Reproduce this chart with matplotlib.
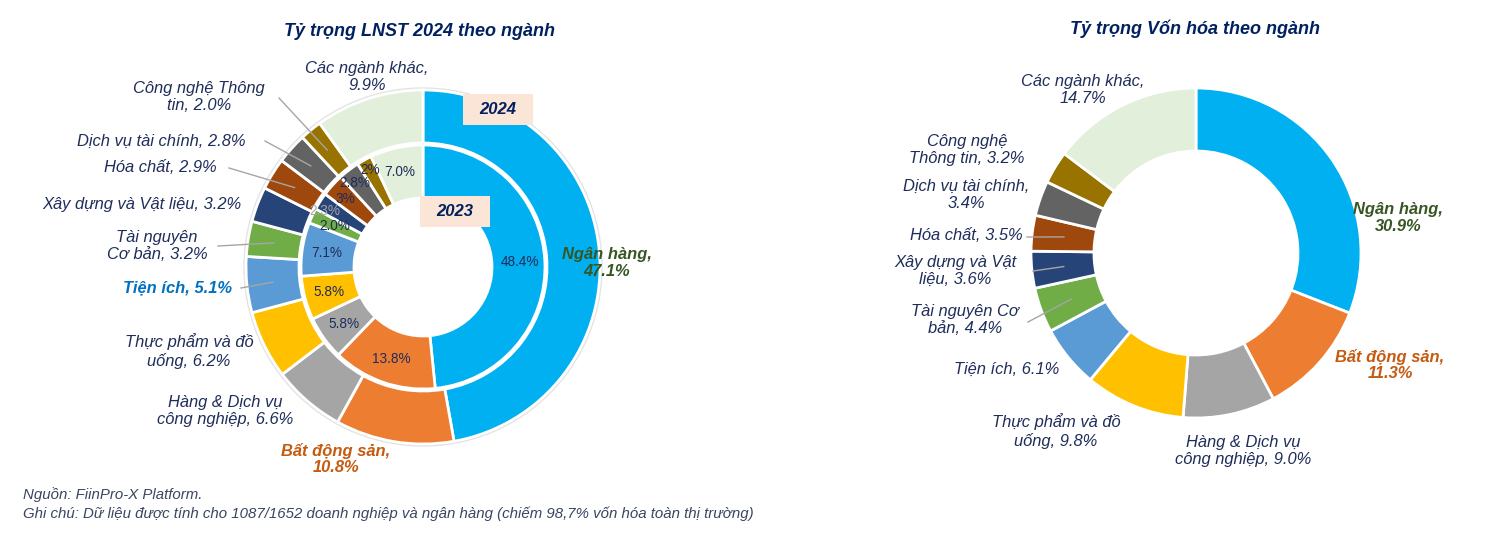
import numpy as np
import matplotlib
matplotlib.use('Agg')
import matplotlib.pyplot as plt
from matplotlib.patches import Rectangle

plt.rcParams['font.family'] = ['Liberation Sans', 'DejaVu Sans']

# Dữ liệu
nganh = ['Ngân hàng', 'Bất động sản', 'Hàng & Dịch vụ công nghiệp', 'Thực phẩm và đồ uống',
         'Tiện ích', 'Tài nguyên Cơ bản', 'Xây dựng và Vật liệu', 'Hóa chất',
         'Dịch vụ tài chính', 'Công nghệ Thông tin', 'Các ngành khác']
lnst_2024 = [47.1, 10.8, 6.6, 6.2, 5.1, 3.2, 3.2, 2.9, 2.8, 2.0, 9.9]
lnst_2023 = [48.4, 13.8, 5.8, 5.8, 7.1, 2.0, 2.3, 3.0, 2.8, 2.0, 7.0]
nhan_2023 = ['48.4%', '13.8%', '5.8%', '5.8%', '7.1%', '2.0%', '2.3%', '3%', '2.8%', '2%', '7.0%']
von_hoa = [30.9, 11.3, 9.0, 9.8, 6.1, 4.4, 3.6, 3.5, 3.4, 3.2, 14.7]

mau = ['#00B0F0', '#ED7D31', '#A5A5A5', '#FFC000', '#5B9BD5', '#70AD47',
       '#264478', '#9E480E', '#636363', '#997300', '#E2EFDA']

W, H = 1496, 533
fig = plt.figure(figsize=(W / 100, H / 100), dpi=100)
ax = fig.add_axes([0, 0, 1, 1])

def Y(y):
    return H - y

navy = '#1F2D5A'
xanh_dam = '#002060'
green = '#375623'
cam = '#C55A11'
fs = 11.9
ls = 1.16

# ---------------- Biểu đồ trái ----------------
c1 = (423, Y(267))
ax.add_patch(plt.Circle(c1, 179, color='#E3E3E3', zorder=0))
ax.add_patch(plt.Circle(c1, 124, color='white', zorder=0))
w_out, _ = ax.pie(lnst_2024, radius=177, center=c1, startangle=90, counterclock=False,
                  colors=mau, wedgeprops=dict(width=53, edgecolor='white', linewidth=2))
w_in, _ = ax.pie(lnst_2023, radius=122, center=c1, startangle=90, counterclock=False,
                 colors=mau, wedgeprops=dict(width=53, edgecolor='white', linewidth=2))

# nhãn vòng trong 2023
lech = {6: (-16, 4), 7: (-6, 3), 8: (-9, 7), 9: (-6, 12), 10: (-2, 0)}
for i, w in enumerate(w_in):
    th = np.deg2rad((w.theta1 + w.theta2) / 2)
    x = c1[0] + 97 * np.cos(th)
    y = c1[1] + 97 * np.sin(th)
    dx, dy = lech.get(i, (0, 0))
    ax.text(x + dx, y + dy, nhan_2023[i], ha='center', va='center', fontsize=9.8,
            color='#A6A6A6' if i == 6 else navy, zorder=5)

def leader(wedges, idx, c, r, x0, y0):
    w = wedges[idx]
    th = np.deg2rad((w.theta1 + w.theta2) / 2)
    ax.plot([x0, c[0] + r * np.cos(th)], [Y(y0), c[1] + r * np.sin(th)],
            color='#A6A6A6', lw=1, zorder=6)

nhan_trai = [
    ('Các ngành khác,\n9.9%', 367, 77, navy, 'normal'),
    ('Công nghệ Thông\ntin, 2.0%', 199, 97, navy, 'normal'),
    ('Dịch vụ tài chính, 2.8%', 161, 141, navy, 'normal'),
    ('Hóa chất, 2.9%', 160, 168, navy, 'normal'),
    ('Xây dựng và Vật liệu, 3.2%', 142, 204, navy, 'normal'),
    ('Tài nguyên\nCơ bản, 3.2%', 157, 246, navy, 'normal'),
    ('Tiện ích, 5.1%', 178, 288, '#0070C0', 'bold'),
    ('Thực phẩm và đồ\nuống, 6.2%', 189, 351, navy, 'normal'),
    ('Hàng & Dịch vụ\ncông nghiệp, 6.6%', 225, 411, navy, 'normal'),
    ('Bất động sản,\n10.8%', 336, 459, cam, 'bold'),
    ('Ngân hàng,\n47.1%', 607, 263, green, 'bold'),
]
for t, x, y, col, wt in nhan_trai:
    ax.text(x, Y(y), t, ha='center', va='center', fontsize=fs, style='italic',
            color=col, weight=wt, linespacing=ls)

leader(w_out, 9, c1, 151, 279, 98)
leader(w_out, 8, c1, 151, 265, 141)
leader(w_out, 7, c1, 151, 229, 168)
leader(w_out, 5, c1, 151, 218, 246)
leader(w_out, 4, c1, 151, 241, 288)

for nam, x0, y0 in [('2024', 463, 94), ('2023', 420, 196)]:
    ax.add_patch(Rectangle((x0, Y(y0 + 31)), 70, 31, facecolor='#FBE5D6', edgecolor='none', zorder=7))
    ax.text(x0 + 35, Y(y0 + 15.5), nam, ha='center', va='center', fontsize=12,
            style='italic', weight='bold', color=xanh_dam, zorder=8)

ax.text(420, Y(31), 'Tỷ trọng LNST 2024 theo ngành', ha='center', va='center',
        fontsize=13, style='italic', weight='bold', color=xanh_dam)

# ---------------- Biểu đồ phải ----------------
c2 = (1196, Y(253))
w_r, _ = ax.pie(von_hoa, radius=165, center=c2, startangle=90, counterclock=False,
                colors=mau, wedgeprops=dict(width=63, edgecolor='white', linewidth=2))

nhan_phai = [
    ('Các ngành khác,\n14.7%', 1083, 90, navy, 'normal'),
    ('Công nghệ\nThông tin, 3.2%', 967, 150, navy, 'normal'),
    ('Dịch vụ tài chính,\n3.4%', 966, 195, navy, 'normal'),
    ('Hóa chất, 3.5%', 966, 236, navy, 'normal'),
    ('Xây dựng và Vật\nliệu, 3.6%', 955, 271, navy, 'normal'),
    ('Tài nguyên Cơ\nbản, 4.4%', 965, 320, navy, 'normal'),
    ('Tiện ích, 6.1%', 1007, 369, navy, 'normal'),
    ('Thực phẩm và đồ\nuống, 9.8%', 1056, 431, navy, 'normal'),
    ('Hàng & Dịch vụ\ncông nghiệp, 9.0%', 1243, 451, navy, 'normal'),
    ('Bất động sản,\n11.3%', 1390, 365, cam, 'bold'),
    ('Ngân hàng,\n30.9%', 1398, 218, green, 'bold'),
]
for t, x, y, col, wt in nhan_phai:
    ax.text(x, Y(y), t, ha='center', va='center', fontsize=fs, style='italic',
            color=col, weight=wt, linespacing=ls)

leader(w_r, 7, c2, 133, 1027, 237)
leader(w_r, 6, c2, 133, 1033, 271)
leader(w_r, 5, c2, 133, 1028, 322)

ax.text(1195, Y(29), 'Tỷ trọng Vốn hóa theo ngành', ha='center', va='center',
        fontsize=13, style='italic', weight='bold', color=xanh_dam)

# ---------------- Ghi chú ----------------
ax.text(23, Y(495), 'Nguồn: FiinPro-X Platform.', ha='left', va='center',
        fontsize=10.8, style='italic', color='#3A4560')
ax.text(23, Y(514), 'Ghi chú: Dữ liệu được tính cho 1087/1652 doanh nghiệp và ngân hàng '
        '(chiếm 98,7% vốn hóa toàn thị trường)', ha='left', va='center',
        fontsize=10.8, style='italic', color='#3A4560')

ax.set_xlim(0, W)
ax.set_ylim(0, H)
ax.set_aspect('equal')
ax.axis('off')

plt.savefig('out.png', dpi=100)
